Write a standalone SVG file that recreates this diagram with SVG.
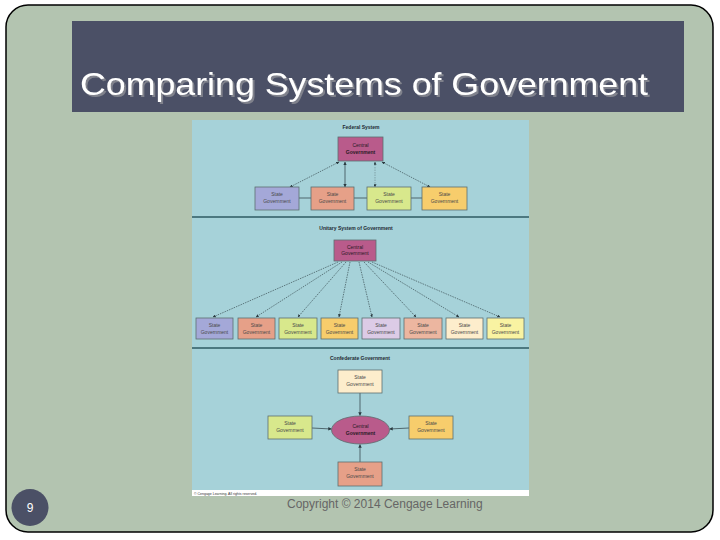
<svg xmlns="http://www.w3.org/2000/svg" width="720" height="540" viewBox="0 0 720 540">
<defs>
<marker id="ah" viewBox="0 0 6 6" refX="5.5" refY="3" markerWidth="5" markerHeight="5" orient="auto-start-reverse">
<path d="M0,0 L6,3 L0,6 z" fill="#2a3a40"/>
</marker>
<filter id="sh" x="-5%" y="-20%" width="110%" height="140%">
<feDropShadow dx="2" dy="2" stdDeviation="0" flood-color="#80828c" flood-opacity="1"/>
</filter>
<style>
.slide{fill:#b3c4b0;stroke:#000;stroke-width:1.5}
.bar{fill:#4b5066}
.ttl{font-family:"Liberation Sans",Arial,sans-serif;font-size:32px;fill:#fff}
.pic{fill:#a6d2d9}
.sep{stroke:#2e5a62;stroke-width:1.5}
.hd{font-family:"Liberation Sans",Arial,sans-serif;font-size:5px;font-weight:bold;fill:#1e2a33;text-anchor:middle}
.bx{stroke:#5c6e70;stroke-width:0.8}
.lb{font-family:"Liberation Sans",Arial,sans-serif;font-size:5px;fill:#4a4a4a;text-anchor:middle}
.lbc{font-family:"Liberation Sans",Arial,sans-serif;font-size:5px;fill:#2a1a25;text-anchor:middle}
.ln{stroke:#2a3a40;stroke-width:0.7;fill:none}
.dsh{stroke:#2a3a40;stroke-width:0.6;stroke-dasharray:1.5 1;fill:none}
.ft{font-family:"Liberation Sans",Arial,sans-serif;font-size:12px;fill:#666}
.mag{fill:#b95b8b}
</style>
</defs>
<rect class="slide" x="6" y="5" width="707" height="527" rx="22"/>
<rect class="bar" x="72" y="21" width="612" height="91"/>
<text class="ttl" x="80" y="95" textLength="568" lengthAdjust="spacingAndGlyphs" filter="url(#sh)">Comparing Systems of Government</text>

<g id="picture">
<rect class="pic" x="192" y="120" width="337" height="376"/>
<rect x="192" y="490" width="337" height="6" fill="#fff"/>
<text x="194" y="494.5" font-family="Liberation Sans, Arial, sans-serif" font-size="3.5" fill="#333">© Cengage Learning. All rights reserved.</text>
<line class="sep" x1="192" y1="217" x2="529" y2="217"/>
<line class="sep" x1="192" y1="348" x2="529" y2="348"/>
<text class="hd" x="361" y="129">Federal System</text>
<text class="hd" x="356" y="230">Unitary System of Government</text>
<text class="hd" x="360" y="360">Confederate Government</text>
</g>

<g id="connectors">
<line class="ln" x1="299" y1="198" x2="311" y2="198"/>
<line class="ln" x1="354" y1="198" x2="367" y2="198"/>
<line class="ln" x1="411" y1="198" x2="422" y2="198"/>
<line class="dsh" x1="339" y1="162" x2="290" y2="187" marker-start="url(#ah)" marker-end="url(#ah)"/>
<line class="ln" x1="345" y1="162" x2="345" y2="187" marker-start="url(#ah)" marker-end="url(#ah)"/>
<line class="dsh" x1="375" y1="162" x2="375" y2="187" stroke-opacity="0.5" marker-start="url(#ah)" marker-end="url(#ah)"/>
<line class="dsh" x1="382" y1="162" x2="430" y2="187" marker-start="url(#ah)" marker-end="url(#ah)"/>
<line class="dsh" x1="338" y1="262" x2="213" y2="317" marker-end="url(#ah)"/>
<line class="dsh" x1="342" y1="262" x2="256" y2="317" marker-end="url(#ah)"/>
<line class="dsh" x1="346" y1="262" x2="298" y2="317" marker-end="url(#ah)"/>
<line class="dsh" x1="350" y1="262" x2="339" y2="317" marker-end="url(#ah)"/>
<line class="dsh" x1="359" y1="262" x2="372" y2="317" marker-end="url(#ah)"/>
<line class="dsh" x1="364" y1="262" x2="416" y2="317" marker-end="url(#ah)"/>
<line class="dsh" x1="368" y1="262" x2="459" y2="317" marker-end="url(#ah)"/>
<line class="dsh" x1="372" y1="262" x2="500" y2="317" marker-end="url(#ah)"/>
<line class="ln" x1="360" y1="393" x2="360" y2="415.5" marker-end="url(#ah)"/>
<line class="ln" x1="312" y1="428" x2="331.5" y2="429" marker-end="url(#ah)"/>
<line class="ln" x1="409" y1="428" x2="389.5" y2="429" marker-end="url(#ah)"/>
<line class="ln" x1="360" y1="462" x2="360" y2="444.5" marker-end="url(#ah)"/>
</g>

<g id="fed-central"><rect class="bx mag" x="338" y="137" width="45" height="24"/><text class="lbc" x="360.5" y="147">Central</text><text class="lbc" x="360.5" y="154" font-weight="bold">Government</text></g>
<g id="fed-s1"><rect class="bx" fill="#a4a8d8" x="255" y="187" width="44" height="23"/><text class="lb" x="277" y="196">State</text><text class="lb" x="277" y="203">Government</text></g>
<g id="fed-s2"><rect class="bx" fill="#e6a088" x="311" y="187" width="43" height="23"/><text class="lb" x="332.5" y="196">State</text><text class="lb" x="332.5" y="203">Government</text></g>
<g id="fed-s3"><rect class="bx" fill="#d8e88c" x="367" y="187" width="44" height="23"/><text class="lb" x="389" y="196">State</text><text class="lb" x="389" y="203">Government</text></g>
<g id="fed-s4"><rect class="bx" fill="#f7cd6c" x="422" y="187" width="45" height="23"/><text class="lb" x="444.5" y="196">State</text><text class="lb" x="444.5" y="203">Government</text></g>

<g id="uni-central"><rect class="bx mag" x="334" y="240" width="42" height="21"/><text class="lbc" x="355" y="249">Central</text><text class="lbc" x="355" y="255">Government</text></g>
<g id="uni-s1"><rect class="bx" fill="#a4a8d8" x="196" y="318" width="37" height="21"/><text class="lb" x="214.5" y="327">State</text><text class="lb" x="214.5" y="334">Government</text></g>
<g id="uni-s2"><rect class="bx" fill="#e6a088" x="238" y="318" width="37" height="21"/><text class="lb" x="256.5" y="327">State</text><text class="lb" x="256.5" y="334">Government</text></g>
<g id="uni-s3"><rect class="bx" fill="#d8e88c" x="279" y="318" width="38" height="21"/><text class="lb" x="298" y="327">State</text><text class="lb" x="298" y="334">Government</text></g>
<g id="uni-s4"><rect class="bx" fill="#f7cd6c" x="321" y="318" width="37" height="21"/><text class="lb" x="339.5" y="327">State</text><text class="lb" x="339.5" y="334">Government</text></g>
<g id="uni-s5"><rect class="bx" fill="#dccbe6" x="362" y="318" width="38" height="21"/><text class="lb" x="381" y="327">State</text><text class="lb" x="381" y="334">Government</text></g>
<g id="uni-s6"><rect class="bx" fill="#ecb6a0" x="404" y="318" width="38" height="21"/><text class="lb" x="423" y="327">State</text><text class="lb" x="423" y="334">Government</text></g>
<g id="uni-s7"><rect class="bx" fill="#fdedcc" x="446" y="318" width="37" height="21"/><text class="lb" x="464.5" y="327">State</text><text class="lb" x="464.5" y="334">Government</text></g>
<g id="uni-s8"><rect class="bx" fill="#f9f3a2" x="487" y="318" width="37" height="21"/><text class="lb" x="505.5" y="327">State</text><text class="lb" x="505.5" y="334">Government</text></g>

<g id="con-central"><ellipse class="bx mag" cx="360.5" cy="430" rx="29" ry="14"/><text class="lbc" x="360.5" y="428">Central</text><text class="lbc" x="360.5" y="435" font-weight="bold">Government</text></g>
<g id="con-top"><rect class="bx" fill="#fdedcc" x="338" y="370" width="44" height="23"/><text class="lb" x="360" y="379">State</text><text class="lb" x="360" y="386">Government</text></g>
<g id="con-left"><rect class="bx" fill="#d8e88c" x="268" y="416" width="44" height="23"/><text class="lb" x="290" y="425">State</text><text class="lb" x="290" y="432">Government</text></g>
<g id="con-right"><rect class="bx" fill="#f7cd6c" x="409" y="416" width="44" height="23"/><text class="lb" x="431" y="425">State</text><text class="lb" x="431" y="432">Government</text></g>
<g id="con-bottom"><rect class="bx" fill="#e6a088" x="338" y="462" width="44" height="24"/><text class="lb" x="360" y="471">State</text><text class="lb" x="360" y="478">Government</text></g>

<g id="page-num"><circle cx="30" cy="507.5" r="18.5" fill="#4b5066"/><text x="30" y="512" font-family="Liberation Sans, Arial, sans-serif" font-size="12" fill="#fff" text-anchor="middle">9</text></g>
<text class="ft" x="287" y="508">Copyright © 2014 Cengage Learning</text>
</svg>
